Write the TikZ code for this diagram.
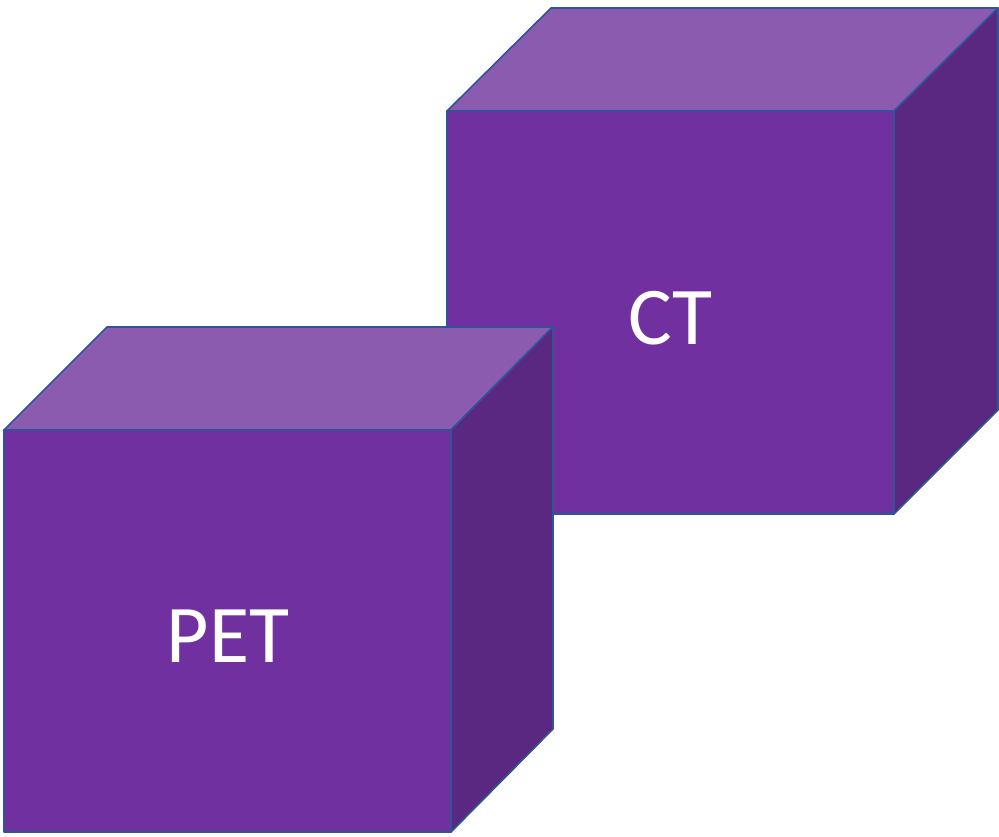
\documentclass[tikz,border=0pt]{standalone}
\usepackage{fontspec}
\setmainfont{Carlito}
\definecolor{frontc}{HTML}{7030A0}
\definecolor{topc}{HTML}{8B5BB0}
\definecolor{sidec}{HTML}{5A2781}
\definecolor{edgec}{HTML}{2F5597}
\begin{document}
\begin{tikzpicture}[x=1pt,y=-1pt,
  face/.style={draw=edgec,line width=1.6pt,line join=round},
  lbl/.style={text=white,font=\fontsize{82}{90}\selectfont,inner sep=0pt}]
\useasboundingbox (0,0) rectangle (999,837);
% CT cube
\coordinate (c1) at (447,111);
\coordinate (c2) at (894,111);
\coordinate (c3) at (894,514);
\coordinate (c4) at (447,514);
\coordinate (c5) at (551,8);
\coordinate (c6) at (998,8);
\coordinate (c7) at (998,410);
\fill[frontc] (c1) -- (c2) -- (c3) -- (c4) -- cycle;
\draw[face,fill=frontc] (c1) -- (c2) -- (c3) -- (c4) -- cycle;
\draw[face,fill=topc] (c1) -- (c5) -- (c6) -- (c2) -- cycle;
\draw[face,fill=sidec] (c2) -- (c6) -- (c7) -- (c3) -- cycle;
\node[lbl] (ct) at (671,318) {CT};
% PET cube
\coordinate (p1) at (4,430);
\coordinate (p2) at (451,430);
\coordinate (p3) at (451,832);
\coordinate (p4) at (4,832);
\coordinate (p5) at (107,327);
\coordinate (p6) at (553,327);
\coordinate (p7) at (553,729);
\draw[face,fill=frontc] (p1) -- (p2) -- (p3) -- (p4) -- cycle;
\draw[face,fill=topc] (p1) -- (p5) -- (p6) -- (p2) -- cycle;
\draw[face,fill=sidec] (p2) -- (p6) -- (p7) -- (p3) -- cycle;
\node[lbl] (pet) at (228,636) {PET};
\end{tikzpicture}
\end{document}
